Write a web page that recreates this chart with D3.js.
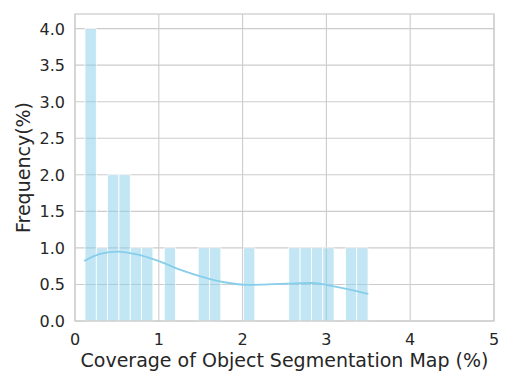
<html>
<head>
  <meta charset="utf-8">
  <script src="https://cdnjs.cloudflare.com/ajax/libs/d3/7.8.5/d3.min.js"></script>
  <style>
    body { margin: 0; background: #fff; }
    text { font-family: "DejaVu Sans", sans-serif; fill: #262626; }
    .grid line { stroke: #cccccc; stroke-width: 1.1px; }
    .bar { fill: #87ceeb; fill-opacity: 0.5; stroke: #fff; stroke-width: 0.8px; }
    .kde { fill: none; stroke: #87ceeb; stroke-width: 1.8px; }
  </style>
</head>
<body>
  <svg id="chart" width="515" height="386"></svg>
  <script>
    // histogram: 25 bins between binLo and binHi
    var binLo = 0.119, binHi = 3.497;
    var counts = [4,1,2,2,1,1,0,1,0,0,1,1,0,0,1,0,0,0,1,1,1,1,0,1,1];
    // kde curve
    var kdeX = [0.11,0.30,0.52,0.74,0.975,1.26,1.53,1.78,2.09,2.52,2.84,3.04,3.28,3.50];
    var kdeY = [0.82,0.92,0.95,0.91,0.83,0.70,0.60,0.53,0.495,0.51,0.52,0.485,0.43,0.37];
    var xTicks = [0,1,2,3,4,5];
    var yTicks = [0,0.5,1,1.5,2,2.5,3,3.5,4];

    var m = {left:75, right:21, top:14, bottom:65};
    var W = 515, H = 386;
    var svg = d3.select("#chart");
    var x = d3.scaleLinear().domain([0,5]).range([m.left, W-m.right]);
    var y = d3.scaleLinear().domain([0,4.2]).range([H-m.bottom, m.top]);

    var g = svg.append("g").attr("class","grid");
    g.selectAll("line.v").data(xTicks).enter().append("line")
      .attr("x1",d=>x(d)).attr("x2",d=>x(d)).attr("y1",y(0)).attr("y2",y(4.2));
    g.selectAll("line.h").data(yTicks).enter().append("line")
      .attr("y1",d=>y(d)).attr("y2",d=>y(d)).attr("x1",x(0)).attr("x2",x(5));

    var bw = (binHi-binLo)/counts.length;
    var bins = counts.map((c,i)=>({x0:binLo+i*bw, x1:binLo+(i+1)*bw, n:c})).filter(d=>d.n>0);
    svg.append("g").selectAll("rect").data(bins).enter().append("rect")
      .attr("class","bar")
      .attr("x",d=>x(d.x0)).attr("width",d=>x(d.x1)-x(d.x0))
      .attr("y",d=>y(d.n)).attr("height",d=>y(0)-y(d.n));

    var line = d3.line().x(d=>x(d[0])).y(d=>y(d[1])).curve(d3.curveMonotoneX);
    svg.append("path").attr("class","kde").attr("d", line(d3.zip(kdeX,kdeY)));

    // frame
    svg.append("rect").attr("x",x(0)).attr("y",y(4.2)).attr("width",x(5)-x(0)).attr("height",y(0)-y(4.2))
      .attr("fill","none").attr("stroke","#cccccc").attr("stroke-width",1.25);

    svg.append("g").selectAll("text").data(xTicks).enter().append("text")
      .attr("x",d=>x(d)).attr("y",y(0)+24).attr("text-anchor","middle")
      .style("font-size","16px").text(d=>d);
    svg.append("g").selectAll("text").data(yTicks).enter().append("text")
      .attr("x",x(0)-10).attr("y",d=>y(d)+6).attr("text-anchor","end")
      .style("font-size","16px").text(d=>d.toFixed(1));

    svg.append("text").attr("x",(x(0)+x(5))/2).attr("y",367).attr("text-anchor","middle")
      .style("font-size","19px").text("Coverage of Object Segmentation Map (%)");
    svg.append("text").attr("transform","translate(30,"+((y(0)+y(4.2))/2)+") rotate(-90)")
      .attr("text-anchor","middle").style("font-size","19px").text("Frequency(%)");
  </script>
</body>
</html>
